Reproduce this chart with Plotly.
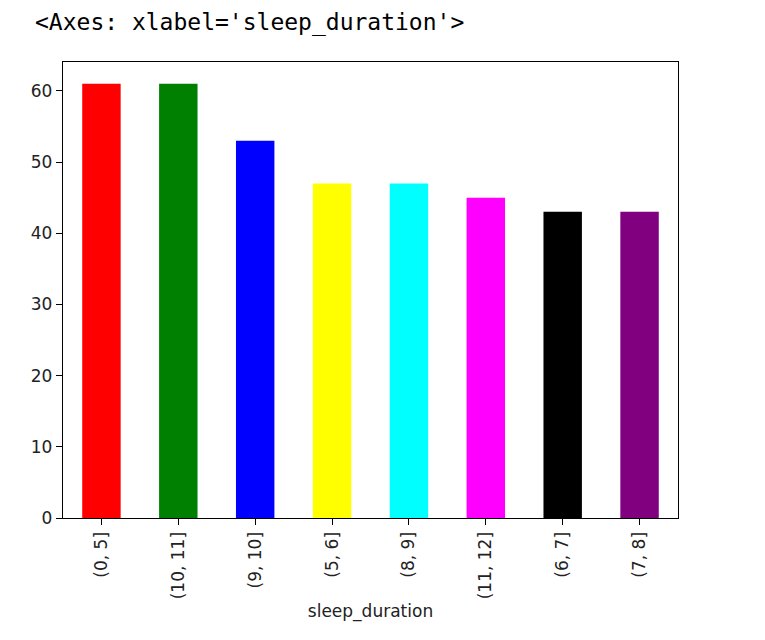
import plotly.graph_objects as go

categories = ["(0, 5]", "(10, 11]", "(9, 10]", "(5, 6]", "(8, 9]", "(11, 12]", "(6, 7]", "(7, 8]"]
counts = [61, 61, 53, 47, 47, 45, 43, 43]
bar_colors = ["red", "green", "blue", "yellow", "cyan", "magenta", "black", "purple"]
y_ticks = [0, 10, 20, 30, 40, 50, 60]

fig = go.Figure(
    go.Bar(
        x=list(range(len(categories))),
        y=counts,
        width=0.5,
        marker=dict(color=bar_colors, line=dict(width=0)),
    )
)

axis_font = dict(family="DejaVu Sans", size=17, color="#222222")

fig.update_layout(
    width=757,
    height=632,
    margin=dict(l=55, r=87, t=54, b=122),
    paper_bgcolor="white",
    plot_bgcolor="white",
    showlegend=False,
    title=dict(
        text="<Axes: xlabel='sleep_duration'>",
        font=dict(family="DejaVu Sans Mono", size=23, color="black"),
        xref="container",
        yref="container",
        x=27 / 757,
        xanchor="left",
        y=1 - 14 / 632,
        yanchor="middle",
    ),
    xaxis=dict(
        range=[-0.5, len(categories) - 0.5],
        tickmode="array",
        tickvals=list(range(len(categories))),
        ticktext=categories,
        tickangle=-90,
        ticks="outside",
        ticklen=6,
        tickwidth=1.3,
        tickcolor="black",
        showline=True,
        linecolor="black",
        linewidth=1.3,
        mirror=True,
        showgrid=False,
        zeroline=False,
        tickfont=axis_font,
        title=dict(text="sleep_duration", font=dict(family="DejaVu Sans", size=17, color="#222222"), standoff=6),
    ),
    yaxis=dict(
        range=[0, max(counts) * 1.05],
        tickmode="array",
        tickvals=y_ticks,
        ticks="outside",
        ticklen=6,
        tickwidth=1.3,
        tickcolor="black",
        showline=True,
        linecolor="black",
        linewidth=1.3,
        mirror=True,
        showgrid=False,
        zeroline=False,
        tickfont=axis_font,
    ),
)

fig.write_html("out.html")
